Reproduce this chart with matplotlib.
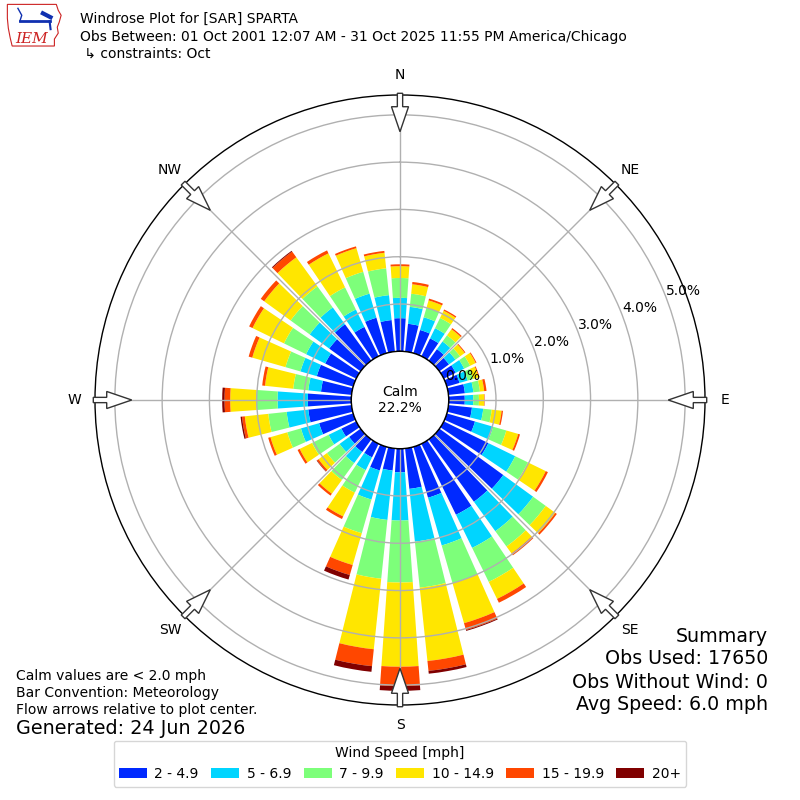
import numpy as np
import matplotlib
matplotlib.use('Agg')
from matplotlib import pyplot as plt
from matplotlib.patches import Circle, FancyArrow, Patch, Polygon

# wind directions (deg, meteorological) and percent of obs in each speed bin
directions = np.arange(0, 360, 10)
speed_labels = ['2 - 4.9', '5 - 6.9', '7 - 9.9', '10 - 14.9', '15 - 19.9', '20+']
spd_2_5 = [0.70, 0.59, 0.51, 0.42, 0.30, 0.25, 0.28, 0.28, 0.35, 0.34, 0.50, 0.62,
           1.05, 1.67, 1.63, 1.67, 1.12, 0.86, 0.50, 0.47, 0.52, 0.32, 0.33, 0.30,
           0.35, 0.75, 0.92, 0.92, 0.65, 0.80, 0.73, 0.82, 0.95, 0.69, 0.78, 0.67]
spd_5_7 = [0.43, 0.36, 0.28, 0.24, 0.20, 0.17, 0.20, 0.18, 0.18, 0.18, 0.24, 0.40,
           0.63, 0.78, 0.77, 0.78, 1.05, 1.12, 1.02, 1.05, 0.64, 0.30, 0.29, 0.25,
           0.30, 0.40, 0.46, 0.64, 0.27, 0.36, 0.45, 0.51, 0.44, 0.41, 0.53, 0.53]
spd_7_10 = [0.42, 0.28, 0.21, 0.24, 0.16, 0.12, 0.14, 0.12, 0.14, 0.12, 0.18, 0.29,
            0.30, 0.33, 0.40, 0.80, 0.83, 0.98, 1.31, 1.25, 0.74, 0.53, 0.44, 0.33,
            0.39, 0.30, 0.39, 0.45, 0.32, 0.33, 0.52, 0.50, 0.55, 0.52, 0.48, 0.57]
spd_10_15 = [0.25, 0.20, 0.16, 0.17, 0.16, 0.12, 0.13, 0.12, 0.09, 0.11, 0.21, 0.26,
             0.42, 0.25, 0.18, 0.40, 0.88, 1.56, 1.78, 1.50, 0.70, 0.56, 0.36, 0.22,
             0.29, 0.37, 0.50, 0.55, 0.60, 0.73, 0.74, 0.69, 0.76, 0.80, 0.52, 0.33]
spd_15_20 = [0.04, 0.05, 0.04, 0.03, 0.03, 0.02, 0.02, 0.02, 0.05, 0.01, 0.03, 0.04,
             0.05, 0.04, 0.05, 0.09, 0.15, 0.21, 0.41, 0.36, 0.22, 0.06, 0.05, 0.04,
             0.05, 0.05, 0.06, 0.12, 0.06, 0.08, 0.08, 0.09, 0.15, 0.07, 0.04, 0.04]
spd_20p = [0.00, 0.00, 0.00, 0.00, 0.00, 0.00, 0.00, 0.00, 0.00, 0.00, 0.00, 0.00,
           0.00, 0.00, 0.00, 0.00, 0.02, 0.06, 0.10, 0.12, 0.10, 0.00, 0.00, 0.01,
           0.00, 0.00, 0.03, 0.05, 0.00, 0.00, 0.00, 0.00, 0.02, 0.00, 0.00, 0.00]
calm_pct = 22.2
ring_values = [0, 1, 2, 3, 4, 5]
compass = ['N', 'NE', 'E', 'SE', 'S', 'SW', 'W', 'NW']

speed_bins = [spd_2_5, spd_5_7, spd_7_10, spd_10_15, spd_15_20, spd_20p]
colors = plt.cm.jet(np.linspace(1 / 6, 1, 6))

rorigin = 1.03
rmax = 5.42

fig = plt.figure(figsize=(8, 8), dpi=100)
ax = fig.add_axes([0.11875, 0.11875, 0.7625, 0.7625], projection='polar')
ax.set_theta_zero_location('N')
ax.set_theta_direction(-1)

theta = np.deg2rad(directions)
bottom = np.zeros(len(directions))
for vals, col, lab in zip(speed_bins, colors, speed_labels):
    vals = np.array(vals)
    ax.bar(theta, vals, width=np.deg2rad(8), bottom=bottom, color=col,
           edgecolor='none', linewidth=0, label=lab)
    bottom += vals

ax.set_rorigin(-rorigin)
ax.set_ylim(0, rmax)
ax.set_rgrids(ring_values[1:], labels=[''] * 5)
ax.set_thetagrids(range(0, 360, 45), labels=[''] * 8)
ax.grid(True, color='#b0b0b0', linewidth=1)
ax.spines['polar'].set_linewidth(1)

for v in ring_values:
    ax.text(np.deg2rad(69), v, f'{v:.1f}%', ha='left', va='bottom',
            fontsize=10, zorder=5)

# calm circle in the middle
calm_r = 0.5 * rorigin / (rmax + rorigin)
ax.add_patch(Circle((0.5, 0.5), calm_r, transform=ax.transAxes, facecolor='white',
                    edgecolor='black', linewidth=1, zorder=4, clip_on=False))
ax.text(0.5, 0.5, f'Calm\n{calm_pct:.1f}%', transform=ax.transAxes,
        ha='center', va='center', fontsize=10, zorder=5)

# compass labels and flow arrows
for i, name in enumerate(compass):
    a = np.deg2rad(i * 45)
    sx, sy = np.sin(a), np.cos(a)
    ax.text(0.5 + 0.533 * sx, 0.5 + 0.533 * sy, name, transform=ax.transAxes,
            ha='center', va='center', fontsize=10)
    ax.add_patch(FancyArrow(0.5 + 0.5028 * sx, 0.5 + 0.5028 * sy,
                            -0.063 * sx, -0.063 * sy, width=0.0087,
                            head_width=0.028, head_length=0.041,
                            length_includes_head=True, transform=ax.transAxes,
                            facecolor='white', edgecolor='#333333', linewidth=1,
                            zorder=6, clip_on=False))

# titles
fig.text(0.1, 1 - 19 / 800, 'Windrose Plot for [SAR] SPARTA', ha='left', va='center', fontsize=10)
fig.text(0.1, 1 - 37 / 800,
         'Obs Between: 01 Oct 2001 12:07 AM - 31 Oct 2025 11:55 PM America/Chicago',
         ha='left', va='center', fontsize=10)
fig.text(0.1, 1 - 54 / 800, ' \u21b3 constraints: Oct', ha='left', va='center', fontsize=10)

# logo
lax = fig.add_axes([0.008, 0.94, 0.072, 0.057])
lax.set_xlim(0, 60)
lax.set_ylim(0, 46)
lax.axis('off')
lax.add_patch(Polygon([(1, 44), (52, 44), (54, 38), (57, 33), (55, 26), (53, 21),
                       (54, 15), (50, 9), (50, 2), (6, 2), (4, 10), (2, 20), (1, 30)],
                      closed=True, fill=False, edgecolor='#cc2222', linewidth=0.8))
lax.plot([14, 45], [27, 27], color='#1030b0', linewidth=2)
lax.plot([12, 16, 14], [40, 33, 27], color='#1030b0', linewidth=1)
lax.plot([38, 46], [35, 31], color='#1030b0', linewidth=3)
lax.plot([45, 46], [27, 19], color='#1030b0', linewidth=1.5)
lax.text(26, 9, 'IEM', color='#cc2222', fontsize=11, fontstyle='italic',
         family='DejaVu Serif', ha='center', va='center')

# summary and notes
fig.text(0.96, 1 - 636 / 800, 'Summary', ha='right', va='center', fontsize=13.7)
fig.text(0.96, 1 - 659 / 800, 'Obs Used: 17650', ha='right', va='center', fontsize=13.7)
fig.text(0.96, 1 - 682 / 800, 'Obs Without Wind: 0', ha='right', va='center', fontsize=13.7)
fig.text(0.96, 1 - 705 / 800, 'Avg Speed: 6.0 mph', ha='right', va='center', fontsize=13.7)

fig.text(0.02, 1 - 676 / 800, 'Calm values are < 2.0 mph', ha='left', va='center', fontsize=10)
fig.text(0.02, 1 - 693 / 800, 'Bar Convention: Meteorology', ha='left', va='center', fontsize=10)
fig.text(0.02, 1 - 710 / 800, 'Flow arrows relative to plot center.', ha='left', va='center', fontsize=10)
fig.text(0.02, 1 - 729 / 800, 'Generated: 24 Jun 2026', ha='left', va='center', fontsize=13.8)

handles = [Patch(facecolor=c, edgecolor='none') for c in colors]
fig.legend(handles, speed_labels, loc='lower center', bbox_to_anchor=(0.5, 0.008),
           ncol=6, title='Wind Speed [mph]', fontsize=10, title_fontsize=10,
           handletextpad=0.55, columnspacing=0.9)

fig.savefig('out.png', dpi=100)
